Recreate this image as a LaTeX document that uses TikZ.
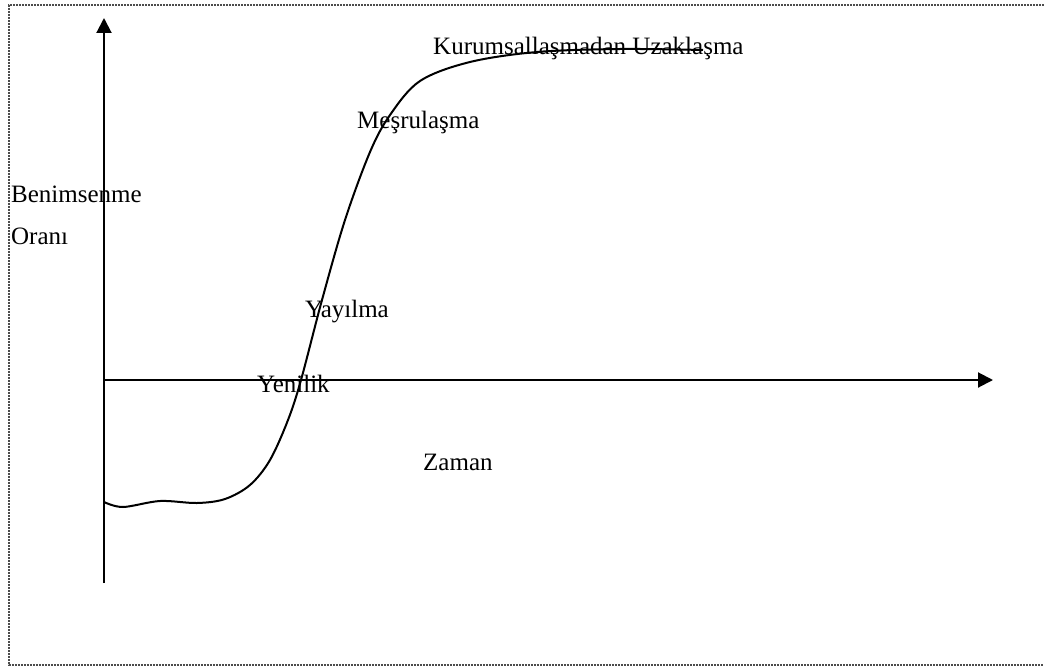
\documentclass[tikz,border=0pt]{standalone}
\usepackage{fontspec}
\setmainfont{Liberation Serif}
\usetikzlibrary{arrows.meta}
\begin{document}
\begin{tikzpicture}[x=1pt,y=-1pt,
  lbl/.style={anchor=base west,inner sep=0pt,font=\fontsize{25}{30}\selectfont},
  axis/.style={line width=2pt,-{Triangle[length=15pt,width=15pt]}},
  frame/.style={line width=1.2pt,black!70,dash pattern=on 1.6pt off 1.4pt}]
\useasboundingbox (0,0) rectangle (1044,669);
\draw[frame] (1044,5) -- (9,5) -- (9,665) -- (1044,665);
\coordinate (ybot) at (104,583);
\coordinate (ytop) at (104,18);
\coordinate (o) at (104,380);
\coordinate (xend) at (993,380);
\draw[axis] (ybot) -- (ytop);
\draw[axis] (o) -- (xend);
\draw[line width=2pt] plot[smooth,tension=0.55] coordinates {
 (104,502) (123,507) (160,501) (197,503) (225,499) (250,485) (270,460)
 (288,420) (301,380) (322,300) (345,220) (370,152) (390,115) (420,81)
 (470,62) (537,52) (620,49) (703,50)};
\node[lbl] (kur) at (433,55) {Kurumsallaşmadan Uzaklaşma};
\node[lbl] (mes) at (357,128) {Meşrulaşma};
\node[lbl] (ben) at (11,202) {Benimsenme};
\node[lbl] (ora) at (11,244) {Oranı};
\node[lbl] (yay) at (305,317) {Yayılma};
\node[lbl] (yen) at (257,392) {Yenilik};
\node[lbl] (zam) at (423,470) {Zaman};
\end{tikzpicture}
\end{document}
